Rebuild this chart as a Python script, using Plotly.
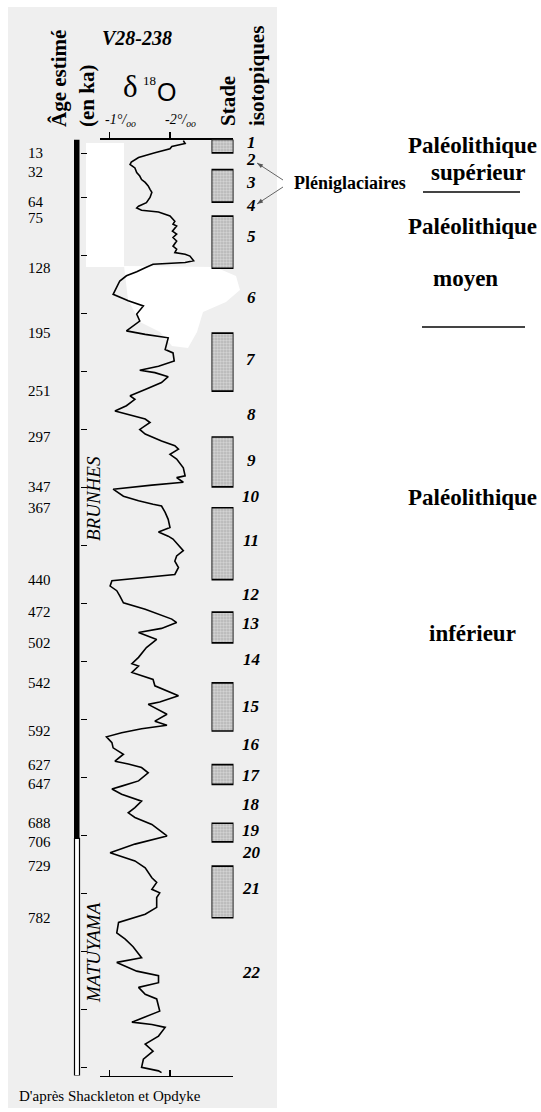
import plotly.graph_objects as go

W, H = 541, 1112
SERIF = "Liberation Serif, Times New Roman, Times, DejaVu Serif, serif"
SANS = "Liberation Sans, Arial, sans-serif"

# ---------------- data (core V28-238) ----------------
# depth in core (m) and oxygen isotope ratio (per mil)
depth_m = [0.02, 0.07, 0.12, 0.16, 0.23, 0.31, 0.39, 0.43, 0.49, 0.57,
           0.63, 0.69, 0.74, 0.80, 0.86, 0.91, 1.00, 1.09, 1.15, 1.18,
           1.22, 1.25, 1.32, 1.41, 1.46, 1.49, 1.58, 1.63, 1.69, 1.75,
           1.84, 1.89, 1.95, 1.98, 2.01, 2.09, 2.12, 2.13, 2.15, 2.21,
           2.28, 2.35, 2.44, 2.67, 2.78, 2.87, 3.01, 3.13, 3.30, 3.36,
           3.42, 3.62, 3.68, 3.82, 3.91, 3.98, 4.02, 4.09, 4.19, 4.31,
           4.42, 4.48, 4.59, 4.68, 4.74, 4.82, 4.88, 5.00, 5.08, 5.20,
           5.28, 5.34, 5.43, 5.51, 5.66, 5.80, 5.83, 5.91, 5.96, 6.03,
           6.15, 6.23, 6.29, 6.32, 6.43, 6.55, 6.69, 6.77, 6.84, 6.89,
           7.09, 7.18, 7.27, 7.38, 7.50, 7.61, 7.70, 7.78, 7.87, 7.99,
           8.10, 8.27, 8.33, 8.43, 8.50, 8.62, 8.76, 8.93, 9.04, 9.08,
           9.19, 9.27, 9.31, 9.42, 9.59, 9.70, 9.74, 9.91, 10.03, 10.10,
           10.16, 10.23, 10.30, 10.40, 10.49, 10.60, 10.72, 10.77, 10.83, 10.92,
           11.06, 11.15, 11.20, 11.29, 11.41, 11.52, 11.61, 11.69, 11.81, 12.01,
           12.15, 12.30, 12.44, 12.56, 12.73, 12.81, 12.93, 12.99, 13.07, 13.24,
           13.36, 13.50, 13.68, 13.79, 13.92, 14.11, 14.19, 14.34, 14.42, 14.54,
           14.62, 14.74, 14.82, 15.03, 15.22, 15.26, 15.31, 15.46, 15.60, 15.72,
           15.86, 16.00, 16.06, 16.09]
d18o_permil = [-2.22, -2.25, -2.03, -2.00, -1.75, -1.48, -1.36, -1.34, -1.42, -1.45,
               -1.50, -1.53, -1.59, -1.64, -1.67, -1.70, -1.67, -1.61, -1.48, -1.45,
               -1.53, -1.81, -2.00, -2.08, -2.05, -2.11, -2.04, -2.11, -2.05, -2.11,
               -2.05, -2.11, -2.08, -2.25, -2.33, -2.39, -2.25, -2.00, -1.72, -1.59,
               -1.45, -1.28, -1.17, -1.06, -1.31, -1.56, -1.45, -1.50, -1.28, -1.59,
               -1.97, -1.92, -2.05, -2.07, -1.81, -1.50, -1.75, -1.97, -1.86, -1.59,
               -1.34, -1.42, -1.28, -1.09, -1.31, -1.59, -1.67, -1.50, -1.59, -1.86,
               -2.08, -2.14, -2.00, -2.11, -2.22, -2.25, -2.11, -2.22, -1.70, -1.06,
               -1.23, -1.48, -1.72, -1.86, -1.92, -1.97, -2.00, -1.81, -1.97, -2.05,
               -2.22, -2.11, -2.08, -2.14, -2.08, -1.04, -1.01, -1.12, -1.17, -1.23,
               -1.59, -2.03, -2.11, -1.86, -1.48, -1.78, -1.61, -1.48, -1.37, -1.48,
               -1.37, -1.59, -1.72, -1.75, -2.14, -1.83, -1.64, -1.95, -1.75, -1.95,
               -1.53, -1.20, -0.95, -1.04, -1.06, -1.23, -1.09, -1.31, -1.53, -1.64,
               -1.48, -1.20, -1.04, -1.20, -1.53, -1.42, -1.31, -1.42, -1.70, -1.95,
               -1.42, -1.01, -1.42, -1.59, -1.70, -1.78, -1.70, -1.83, -1.78, -1.78,
               -1.59, -1.15, -1.12, -1.26, -1.39, -1.53, -1.12, -1.45, -1.81, -1.81,
               -1.48, -1.59, -1.78, -1.83, -1.37, -1.70, -1.92, -1.81, -1.59, -1.72,
               -1.56, -1.53, -1.81, -1.86]

# stage boundaries: estimated age (ka) and depth (m)
boundary_age_ka = [13, 32, 64, 75, 128, 195, 251, 297, 347, 367, 440,
                   472, 502, 542, 592, 627, 647, 688, 706, 729, 782]
boundary_depth_m = [0.23, 0.52, 1.08, 1.32, 2.22, 3.34, 4.34, 5.13, 5.99, 6.35, 7.59,
                    8.15, 8.68, 9.37, 10.20, 10.78, 11.12, 11.79, 12.11, 12.53, 13.42]

stage_numbers = [str(i) for i in range(1, 23)]
stage_label_depth_m = [0.06, 0.35, 0.75, 1.13, 1.68, 2.72, 3.80, 4.75, 5.53, 6.16, 6.92,
                       7.85, 8.35, 8.97, 9.77, 10.44, 10.96, 11.46, 11.91, 12.30, 12.91, 14.37]

core_tick_depth_m = [0.24] + list(range(1, 17))
d18o_ticks = [-1, -2]
d18o_tick_labels = ["-1", "-2"]
brunhes_matuyama_depth_m = 12.05
core_base_m = 16.14

# ---------------- geometry helpers ----------------
def px(x):
    return x / W

def py(y):
    return 1 - y / H

X0, X1 = 100, 233          # delta axis extent (px)
Y0, Y1 = 139.5, 1075.5      # core top / bottom (px)

def d_at(xp):               # delta value at a horizontal pixel
    return -(xp - 49) / 60.5

fig = go.Figure()

fig.add_trace(go.Scatter(x=d18o_permil, y=depth_m, mode="lines",
                         line=dict(color="black", width=1.6),
                         xaxis="x", yaxis="y", hoverinfo="skip", showlegend=False))
fig.add_trace(go.Scatter(x=[None], y=[None], xaxis="x2", yaxis="y",
                         showlegend=False, hoverinfo="skip"))

box_start = [0.0] + boundary_depth_m[1::2]
box_end = boundary_depth_m[0::2]
fig.add_trace(go.Bar(x=[0] * len(box_start),
                     y=[e - s for s, e in zip(box_start, box_end)],
                     base=box_start, width=1, xaxis="x3", yaxis="y",
                     marker=dict(color="#cfcfcf",
                                 line=dict(color="black", width=1.7),
                                 pattern=dict(shape=".", fgcolor="#6a6a6a",
                                              bgcolor="#d8d8d8", size=3, solidity=0.4)),
                     hoverinfo="skip", showlegend=False))

axis_common = dict(showgrid=False, zeroline=False, fixedrange=True,
                   showline=True, linecolor="black", linewidth=1.5,
                   tickvals=d18o_ticks, showticklabels=False,
                   ticklen=6, tickwidth=1.5, tickcolor="black")

fig.update_layout(
    width=W, height=H, autosize=False,
    margin=dict(l=0, r=0, t=0, b=0, pad=0),
    paper_bgcolor="white", plot_bgcolor="rgba(0,0,0,0)",
    showlegend=False, bargap=0,
    font=dict(family=SERIF, color="black"),
    xaxis=dict(domain=[px(X0), px(X1)], range=[d_at(X0), d_at(X1)],
               anchor="y", side="bottom", ticks="inside", **axis_common),
    xaxis2=dict(domain=[px(X0), px(X1)], range=[d_at(X0), d_at(X1)],
                anchor="y", overlaying="x", side="top", ticks="outside", **axis_common),
    xaxis3=dict(domain=[px(211.5), px(233.5)], range=[-0.5, 0.5], anchor="y",
                visible=False, fixedrange=True),
    yaxis=dict(domain=[py(Y1), py(Y0)], range=[core_base_m, 0],
               anchor="free", position=px(79.5), side="right",
               showline=False, showgrid=False, zeroline=False, fixedrange=True,
               ticks="outside", ticklen=6, tickwidth=1.5, tickcolor="black",
               tickvals=core_tick_depth_m, showticklabels=False),
)

shapes = []
# grey scanned panel
shapes.append(dict(type="rect", xref="paper", yref="paper", x0=px(8), x1=px(277),
                   y0=py(1108), y1=py(7), fillcolor="#efefef", line=dict(width=0), layer="below"))
# white patches of the scan
shapes.append(dict(type="rect", xref="paper", yref="paper", x0=px(86), x1=px(124),
                   y0=py(267), y1=py(143), fillcolor="white", line=dict(width=0), layer="below"))
blob = [(124, 266), (215, 267), (236, 276), (240, 290), (226, 302), (203, 312), (197, 332),
        (188, 348), (172, 346), (160, 332), (140, 322), (128, 300)]
path = "M " + " L ".join(f"{px(a):.5f},{py(b):.5f}" for a, b in blob) + " Z"
shapes.append(dict(type="path", xref="paper", yref="paper", path=path,
                   fillcolor="white", line=dict(width=0), layer="below"))
# magnetic polarity column
shapes.append(dict(type="rect", xref="paper", yref="y", x0=px(74), x1=px(79.5),
                   y0=0, y1=brunhes_matuyama_depth_m, fillcolor="black",
                   line=dict(width=0)))
shapes.append(dict(type="rect", xref="paper", yref="y", x0=px(74.5), x1=px(79.5),
                   y0=brunhes_matuyama_depth_m, y1=core_base_m, fillcolor="white",
                   line=dict(color="black", width=1.2)))
# separators on the right
shapes.append(dict(type="line", xref="paper", yref="paper", x0=px(423), x1=px(520),
                   y0=py(192), y1=py(192), line=dict(color="#444", width=1.8)))
shapes.append(dict(type="line", xref="paper", yref="paper", x0=px(422), x1=px(525),
                   y0=py(327), y1=py(327), line=dict(color="#444", width=1.8)))
# pleniglacial pointer lines with small arrow heads
for (xa, ya), (xb, yb) in (((283, 180), (257, 163)), ((283, 187), (257, 204))):
    shapes.append(dict(type="line", xref="paper", yref="paper", x0=px(xa), y0=py(ya),
                       x1=px(xb), y1=py(yb), line=dict(color="#555", width=0.9)))
    dx, dy = xa - xb, ya - yb
    n = (dx * dx + dy * dy) ** 0.5
    ux, uy = dx / n, dy / n
    bx, by = xb + ux * 6, yb + uy * 6
    head = [(xb, yb), (bx - uy * 2.2, by + ux * 2.2), (bx + uy * 2.2, by - ux * 2.2)]
    hp = "M " + " L ".join(f"{px(a):.5f},{py(b):.5f}" for a, b in head) + " Z"
    shapes.append(dict(type="path", xref="paper", yref="paper", path=hp,
                       fillcolor="#555", line=dict(width=0)))
fig.update_layout(shapes=shapes)

ann = []

def txt(text, x, y, size, family=SERIF, angle=0, xanchor="center", yref="paper", yshift=0):
    ann.append(dict(text=text, xref="paper", yref=yref, x=x, y=y, yshift=yshift,
                    showarrow=False, textangle=angle, xanchor=xanchor,
                    yanchor="middle", font=dict(family=family, size=size, color="black")))

# header
txt("<b>Âge estimé</b>", px(59), py(79), 21, angle=-90)
txt("<b>(en ka)</b>", px(87), py(96), 21, angle=-90)
txt("<b><i>V28-238</i></b>", px(137), py(38), 20)
txt("δ", px(130), py(87), 31)
txt("18", px(149), py(80), 13)
txt("O", px(166), py(92), 25, family=SANS)
txt("<b>Stade</b>", px(228), py(101), 21, angle=-90)
txt("<b>isotopiques</b>", px(257), py(76), 21, angle=-90)
for v, lab in zip(d18o_ticks, d18o_tick_labels):
    ann.append(dict(text=f"<i>{lab}°/<sub>oo</sub></i>", xref="x", yref="paper",
                    x=v, y=py(121), xanchor="left", xshift=-7, showarrow=False,
                    yanchor="middle", font=dict(family=SERIF, size=14, color="black")))

# age labels
for i, (a, d) in enumerate(zip(boundary_age_ka, boundary_depth_m)):
    prev_gap = d - boundary_depth_m[i - 1] if i > 0 else 1
    txt(str(a), px(26), d, 15, xanchor="left", yref="y",
        yshift=-2 if prev_gap < 0.3 else 0)

# isotope stage numbers
for s, d in zip(stage_numbers, stage_label_depth_m):
    txt(f"<b><i>{s}</i></b>", px(251), d, 17, yref="y")

# polarity names
txt("<i>BRUNHES</i>", px(93), py(499), 19, angle=-90)
txt("<i>MATUYAMA</i>", px(93), py(953), 19, angle=-90)

txt("<b>Pléniglaciaires</b>", px(292), py(183), 18, xanchor="left")

# archaeological periods
txt("<b>Paléolithique</b>", px(472), py(146), 23)
txt("<b>supérieur</b>", px(478), py(172), 23)
txt("<b>Paléolithique</b>", px(472), py(227), 23)
txt("<b>moyen</b>", px(465), py(278), 23)
txt("<b>Paléolithique</b>", px(472), py(497), 23)
txt("<b>inférieur</b>", px(472), py(633), 23)

txt("D'après Shackleton et Opdyke", px(17), py(1096), 15, xanchor="left")

fig.update_layout(annotations=ann)

fig.write_html("out.html", config={"displayModeBar": False, "staticPlot": True},
               post_script="document.body.style.margin='0';document.body.style.overflow='hidden';")
